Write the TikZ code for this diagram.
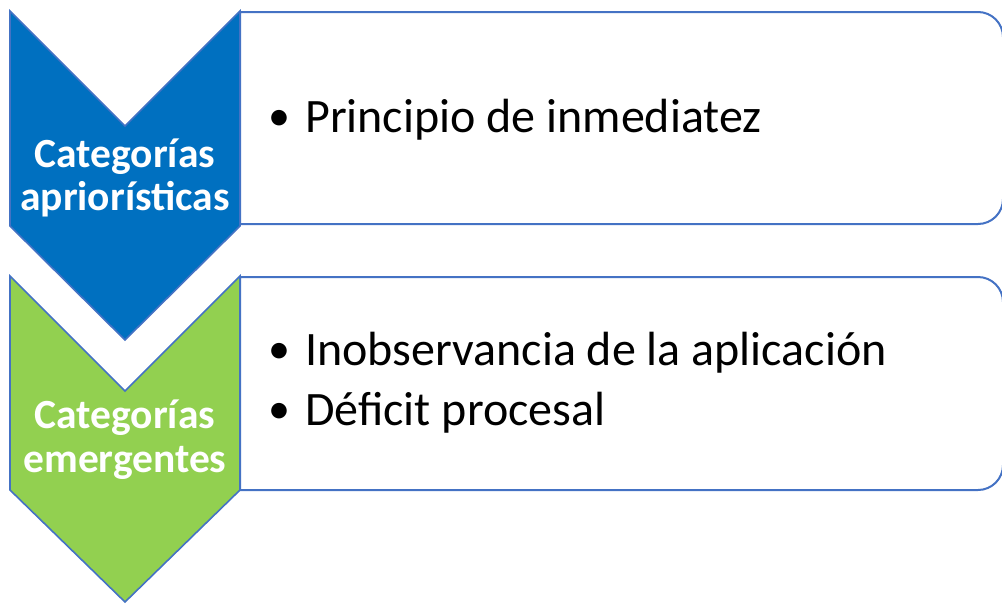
\documentclass[tikz,border=0pt]{standalone}
\usepackage{fontspec}
\setmainfont{Carlito}
\definecolor{edge}{HTML}{4472C4}
\definecolor{chevblue}{HTML}{0070C0}
\definecolor{chevgreen}{HTML}{92D050}
\begin{document}
\begin{tikzpicture}[x=1pt,y=-1pt,
  boxline/.style={draw=edge,line width=2pt,fill=white},
  chev/.style={draw=edge,line width=1.6pt,line join=miter},
  lab/.style={text=white,font=\fontsize{41.5}{48}\selectfont\bfseries,anchor=base,inner sep=0pt},
  item/.style={text=black,font=\fontsize{48}{56}\selectfont,anchor=base west,inner sep=0pt},
  dot/.style={text=black,font=\fontsize{44}{50}\selectfont,anchor=base west,inner sep=0pt}]
\useasboundingbox (0,0) rectangle (1002,603);
% content boxes
\draw[boxline] (240,12) -- (978,12) arc[start angle=-90,end angle=0,radius=25] -- (1003,199)
   arc[start angle=0,end angle=90,radius=25] -- (240,224) -- cycle;
\draw[boxline] (240,277) -- (978,277) arc[start angle=-90,end angle=0,radius=25] -- (1003,465)
   arc[start angle=0,end angle=90,radius=25] -- (240,490) -- cycle;
% chevrons
\draw[chev,fill=chevblue] (10,11) -- (125,126) -- (240,11) -- (240,226) -- (125,340) -- (10,226) -- cycle;
\draw[chev,fill=chevgreen] (10,276) -- (125,391) -- (240,276) -- (240,490) -- (125,602) -- (10,490) -- cycle;
% labels
\node[lab] (l1a) at (125,167) {Categorías};
\node[lab] (l1b) at (125,210) {apriorísticas};
\node[lab] (l2a) at (125,428) {Categorías};
\node[lab] (l2b) at (125,472) {emergentes};
% items
\node[dot] (b1) at (268,130) {•};
\node[item] (i1) at (305,132) {Principio de inmediatez};
\node[dot] (b2) at (268,363) {•};
\node[item] (i2) at (305,365) {Inobservancia de la aplicación};
\node[dot] (b3) at (268,423) {•};
\node[item] (i3) at (305,425) {Déficit procesal};
\end{tikzpicture}
\end{document}
